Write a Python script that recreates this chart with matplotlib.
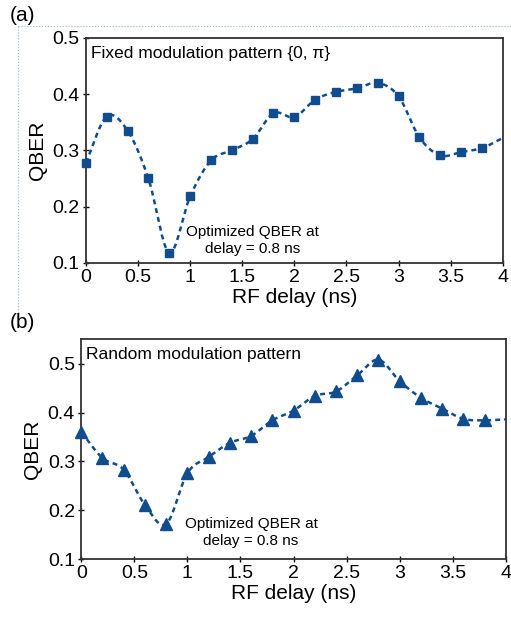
import numpy as np
import matplotlib.pyplot as plt
from matplotlib.lines import Line2D

plt.rcParams['font.family'] = ['Liberation Sans', 'DejaVu Sans']

# delay values (ns)
delay = [0.0, 0.2, 0.4, 0.6, 0.8, 1.0, 1.2, 1.4, 1.6, 1.8, 2.0,
         2.2, 2.4, 2.6, 2.8, 3.0, 3.2, 3.4, 3.6, 3.8, 4.0]

# (a) fixed modulation pattern {0, pi}; last value only reached by the line
qber_fixed = [0.278, 0.360, 0.335, 0.250, 0.118, 0.218, 0.282, 0.300, 0.320,
              0.366, 0.359, 0.390, 0.404, 0.410, 0.420, 0.396, 0.323, 0.291,
              0.297, 0.304, 0.322]

# (b) random modulation pattern
qber_random = [0.360, 0.307, 0.283, 0.211, 0.172, 0.276, 0.309, 0.338, 0.352,
               0.384, 0.404, 0.434, 0.443, 0.476, 0.508, 0.464, 0.430, 0.408,
               0.387, 0.384, 0.386]

color = '#114d8c'


def smooth(x, y, n=20):
    # Catmull-Rom curve through the points (like Excel smoothed lines)
    x = np.asarray(x, float)
    y = np.asarray(y, float)
    px = np.concatenate([[2 * x[0] - x[1]], x, [2 * x[-1] - x[-2]]])
    py = np.concatenate([[2 * y[0] - y[1]], y, [2 * y[-1] - y[-2]]])
    t = np.linspace(0, 1, n, endpoint=False)
    xs, ys = [], []
    for i in range(1, len(px) - 2):
        for p, out in ((px, xs), (py, ys)):
            p0, p1, p2, p3 = p[i - 1], p[i], p[i + 1], p[i + 2]
            out.extend(0.5 * (2 * p1 + (-p0 + p2) * t
                              + (2 * p0 - 5 * p1 + 4 * p2 - p3) * t ** 2
                              + (-p0 + 3 * p1 - 3 * p2 + p3) * t ** 3))
    xs.append(x[-1])
    ys.append(y[-1])
    return np.array(xs), np.array(ys)


def panel(ax, y, marker, msize, title, ylim, note_y):
    sx, sy = smooth(delay, y)
    ax.plot(sx, sy, color=color, lw=1.8, ls=(0, (2, 1.6)))
    ax.plot(delay[:-1], y[:-1], ls='none', marker=marker, ms=msize,
            color=color, clip_on=False, zorder=3)
    ax.set_xlim(0, 4)
    ax.set_ylim(*ylim)
    ax.set_xticks([0, 0.5, 1, 1.5, 2, 2.5, 3, 3.5, 4])
    ax.set_xticklabels(['0', '0.5', '1', '1.5', '2', '2.5', '3', '3.5', '4'])
    ax.set_yticks([0.1, 0.2, 0.3, 0.4, 0.5])
    ax.tick_params(direction='inout', length=5, width=1, labelsize=14,
                   pad=2)
    for s in ax.spines.values():
        s.set_linewidth(1.3)
        s.set_color('#333333')
    ax.set_xlabel('RF delay (ns)', fontsize=15, labelpad=1)
    ax.set_ylabel('QBER', fontsize=15, labelpad=4)
    ax.text(0.012, 0.93, title, transform=ax.transAxes, fontsize=12.5,
            va='center', ha='left')
    ax.text(1.6, note_y, 'Optimized QBER at\ndelay = 0.8 ns', fontsize=11,
            ha='center', va='center', linespacing=1.3)


fig = plt.figure(figsize=(5.11, 6.2), dpi=100)
ax1 = fig.add_axes([0.168, 0.576, 0.816, 0.363])
ax2 = fig.add_axes([0.159, 0.098, 0.831, 0.355])

panel(ax1, qber_fixed, 's', 5.5, 'Fixed modulation pattern {0, \u03c0}',
      (0.1, 0.5), 0.14)
panel(ax2, qber_random, '^', 8, 'Random modulation pattern',
      (0.1, 0.55), 0.155)

fig.text(0.02, 0.975, '(a)', fontsize=15, va='center')
fig.text(0.02, 0.48, '(b)', fontsize=15, va='center')

# light dotted frame around panel (a)
fig.add_artist(Line2D([0.035, 1.0], [0.958, 0.958], transform=fig.transFigure,
                      color='#9db8d8', lw=0.8, ls=':'))
fig.add_artist(Line2D([0.035, 0.035], [0.958, 0.495], transform=fig.transFigure,
                      color='#9db8d8', lw=0.8, ls=':'))

fig.savefig('out.png', dpi=100)
